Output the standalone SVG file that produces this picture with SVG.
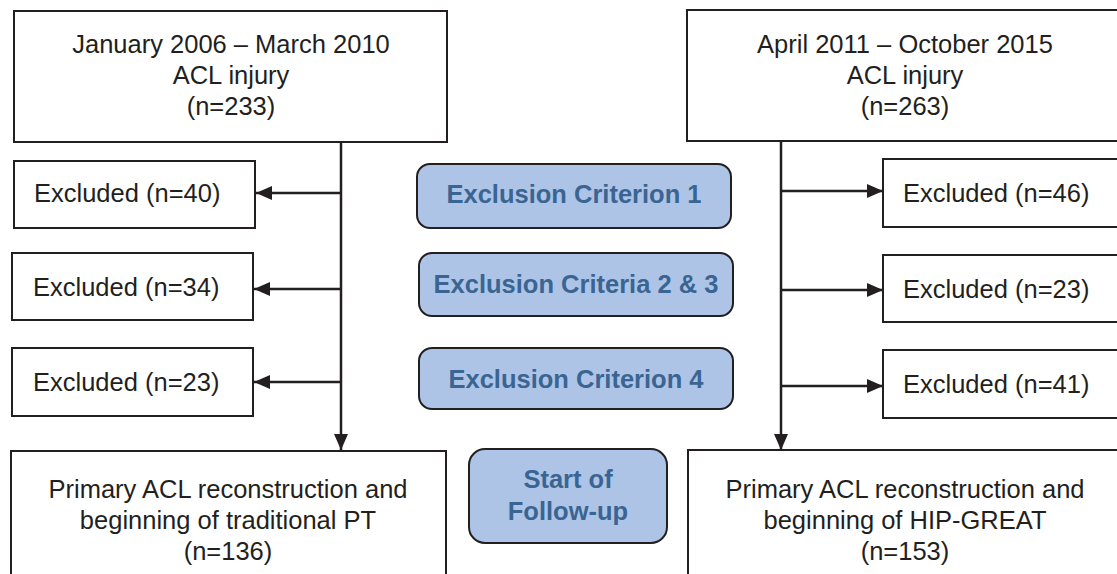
<svg xmlns="http://www.w3.org/2000/svg" width="1117" height="574" viewBox="0 0 1117 574">
<style>
.box{fill:#fff;stroke:#231f20;stroke-width:2}
.crit{fill:#adc4e6;stroke:#231f20;stroke-width:2}
.t{font-family:"Liberation Sans",Arial,sans-serif;font-size:25.5px;fill:#231f20}
.c{text-anchor:middle}
.b{font-family:"Liberation Sans",Arial,sans-serif;font-size:25.5px;font-weight:bold;fill:#3a6592;text-anchor:middle}
.ln{stroke:#231f20;stroke-width:2.5;fill:none}
</style>
<defs>
<marker id="ah" markerWidth="16" markerHeight="14" refX="16" refY="7" orient="auto" markerUnits="userSpaceOnUse">
<path d="M0,0 L16,7 L0,14 Z" fill="#231f20"/>
</marker>
</defs>
<rect width="1117" height="574" fill="#fff"/>
<g id="connectors">
<line class="ln" x1="341" y1="142" x2="341" y2="450" marker-end="url(#ah)"/>
<line class="ln" x1="341" y1="193" x2="256" y2="193" marker-end="url(#ah)"/>
<line class="ln" x1="341" y1="289" x2="254" y2="289" marker-end="url(#ah)"/>
<line class="ln" x1="341" y1="382" x2="254" y2="382" marker-end="url(#ah)"/>
<line class="ln" x1="781" y1="142" x2="781" y2="450" marker-end="url(#ah)"/>
<line class="ln" x1="781" y1="191" x2="883" y2="191" marker-end="url(#ah)"/>
<line class="ln" x1="781" y1="290" x2="883" y2="290" marker-end="url(#ah)"/>
<line class="ln" x1="781" y1="386" x2="883" y2="386" marker-end="url(#ah)"/>
</g>
<g id="top-left">
<rect class="box" x="14" y="11" width="433" height="131"/>
<text class="t c" x="231" y="53">January 2006 – March 2010</text>
<text class="t c" x="231" y="84">ACL injury</text>
<text class="t c" x="231" y="115">(n=233)</text>
</g>
<g id="top-right">
<rect class="box" x="687" y="10" width="436" height="131"/>
<text class="t c" x="905" y="53">April 2011 – October 2015</text>
<text class="t c" x="905" y="84">ACL injury</text>
<text class="t c" x="905" y="115">(n=263)</text>
</g>
<g id="excl-left-1">
<rect class="box" x="14" y="161" width="241" height="67"/>
<text class="t" x="34" y="202">Excluded (n=40)</text>
</g>
<g id="excl-left-2">
<rect class="box" x="12" y="253" width="241" height="67"/>
<text class="t" x="33" y="296">Excluded (n=34)</text>
</g>
<g id="excl-left-3">
<rect class="box" x="12" y="348" width="241" height="68"/>
<text class="t" x="33" y="391">Excluded (n=23)</text>
</g>
<g id="excl-right-1">
<rect class="box" x="883" y="159" width="241" height="68"/>
<text class="t" x="903" y="202">Excluded (n=46)</text>
</g>
<g id="excl-right-2">
<rect class="box" x="883" y="255" width="241" height="67"/>
<text class="t" x="903" y="298">Excluded (n=23)</text>
</g>
<g id="excl-right-3">
<rect class="box" x="883" y="350" width="241" height="68"/>
<text class="t" x="903" y="393">Excluded (n=41)</text>
</g>
<g id="crit-1">
<rect class="crit" x="417" y="164" width="314" height="64" rx="13"/>
<text class="b" x="574" y="203">Exclusion Criterion 1</text>
</g>
<g id="crit-2">
<rect class="crit" x="419" y="253" width="314" height="63" rx="13"/>
<text class="b" x="576" y="293">Exclusion Criteria 2 &amp; 3</text>
</g>
<g id="crit-3">
<rect class="crit" x="419" y="348" width="314" height="61" rx="13"/>
<text class="b" x="576" y="388">Exclusion Criterion 4</text>
</g>
<g id="start">
<rect class="crit" x="469" y="449" width="198" height="94" rx="16"/>
<text class="b" x="568" y="488">Start of</text>
<text class="b" x="568" y="520">Follow-up</text>
</g>
<g id="bottom-left">
<rect class="box" x="11" y="451" width="435" height="140"/>
<text class="t c" x="228" y="498">Primary ACL reconstruction and</text>
<text class="t c" x="228" y="529">beginning of traditional PT</text>
<text class="t c" x="228" y="560">(n=136)</text>
</g>
<g id="bottom-right">
<rect class="box" x="688" y="450" width="436" height="140"/>
<text class="t c" x="905" y="498">Primary ACL reconstruction and</text>
<text class="t c" x="905" y="529">beginning of HIP-GREAT</text>
<text class="t c" x="905" y="560">(n=153)</text>
</g>
</svg>
